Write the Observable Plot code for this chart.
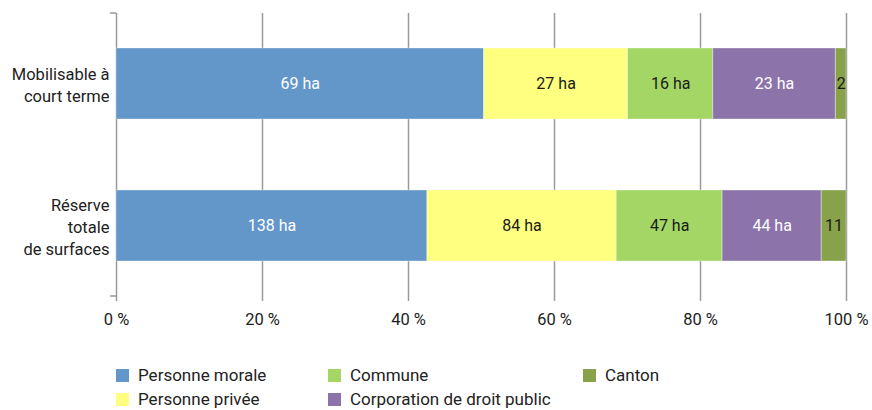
<!DOCTYPE html>
<html><head><meta charset="utf-8">
<script src="https://cdn.jsdelivr.net/npm/d3@7"></script>
<script src="https://cdn.jsdelivr.net/npm/@observablehq/plot@0.6"></script>
<style>
body{margin:0;background:#fff;font-family:Roboto,"DejaVu Sans",sans-serif;overflow:hidden;}
#wrap{position:relative;width:872px;height:410px;}
.leg{position:absolute;display:flex;align-items:center;font-size:17px;line-height:18px;color:#222;white-space:nowrap;}
.sw{width:13px;height:13px;margin-right:9px;}
</style></head>
<body><div id="wrap"></div>
<script>
const categories = ["Mobilisable à\ncourt terme", "Réserve\ntotale\nde surfaces"];
const owners = ["Personne morale", "Personne privée", "Commune", "Corporation de droit public", "Canton"];
const mobilisable = [69, 27, 16, 23, 2];
const reserve = [138, 84, 47, 44, 11];
const colors = ["#6396c9", "#ffff80", "#a3d665", "#8c74ab", "#87a24a"];
const textColors = ["#ffffff", "#1a1a1a", "#1a1a1a", "#ffffff", "#1a1a1a"];
const xTicks = [0, 0.2, 0.4, 0.6, 0.8, 1];

const rows = [];
[mobilisable, reserve].forEach((vals, ci) => {
  vals.forEach((v, oi) => rows.push({cat: categories[ci], owner: owners[oi], value: v, idx: oi}));
});
const totals = [mobilisable, reserve].map(a => d3.sum(a));
const labelOf = d => {
  const share = d.value / totals[categories.indexOf(d.cat)];
  return share < 0.06 ? String(d.value) : d.value + " ha";
};

const edgeTicks = (index, scales, values, dim) => {
  const g = d3.create("svg:g");
  const x0 = scales.x(0);
  [dim.marginTop, dim.height - dim.marginBottom].forEach(y => {
    g.append("line").attr("x1", x0 - 6).attr("x2", x0).attr("y1", y).attr("y2", y)
      .attr("stroke", "#999").attr("stroke-width", 1.5);
  });
  return g.node();
};

const chart = Plot.plot({
  width: 872, height: 345,
  marginTop: 13, marginBottom: 49, marginLeft: 116, marginRight: 26,
  style: {fontFamily: "Roboto, sans-serif", fontSize: "16px", color: "#222"},
  x: {domain: [0, 1], label: null},
  y: {domain: categories, paddingInner: 0.5, paddingOuter: 0.24, label: null},
  color: {domain: owners, range: colors},
  marks: [
    Plot.ruleX(xTicks, {stroke: "#9a9a9a", strokeWidth: 1.5, insetBottom: -5}),
    Plot.barX(rows, Plot.stackX({x: "value", y: "cat", fill: "owner", offset: "normalize", stroke: "#ffffff", strokeOpacity: 0.35, strokeWidth: 1})),
    Plot.text(rows, Plot.stackX({x: "value", y: "cat", offset: "normalize", text: labelOf, fill: d => textColors[d.idx], fontSize: 16})),
    edgeTicks,
    Plot.axisX(xTicks, {tickSize: 0, tickPadding: 17, tickFormat: d => Math.round(d * 100) + " %", fontSize: 16.5, fill: "#222"}),
    Plot.axisY({tickSize: 0, tickPadding: 7, fontSize: 16.5, fill: "#222", lineHeight: 1.35})
  ]
});
const wrap = document.getElementById("wrap");
chart.style.position = "absolute"; chart.style.left = "0"; chart.style.top = "0";
wrap.appendChild(chart);

const legendPos = [[116, 375], [116, 399], [328, 375], [328, 399], [583, 375]];
const legendOrder = ["Personne morale", "Personne privée", "Commune", "Corporation de droit public", "Canton"];
legendOrder.forEach((o, i) => {
  const d = document.createElement("div");
  d.className = "leg";
  d.style.left = legendPos[i][0] + "px";
  d.style.top = (legendPos[i][1] - 9) + "px";
  d.style.height = "18px";
  const s = document.createElement("span");
  s.className = "sw"; s.style.background = colors[owners.indexOf(o)];
  d.appendChild(s);
  d.appendChild(document.createTextNode(o));
  wrap.appendChild(d);
});
</script></body></html>
